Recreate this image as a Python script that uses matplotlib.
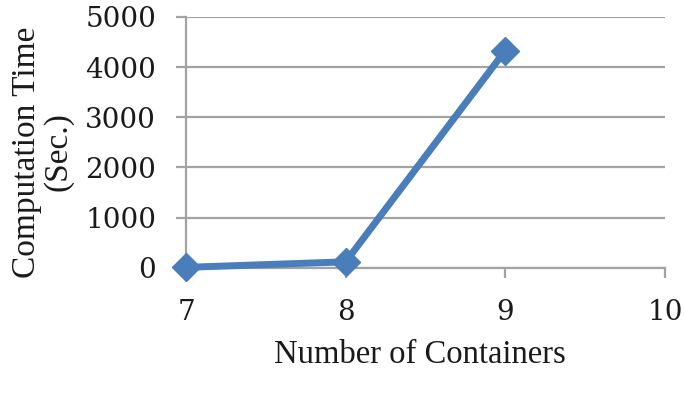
import matplotlib
matplotlib.use("Agg")
import matplotlib.pyplot as plt

# data
containers = [7, 8, 9]
comp_time = [10, 120, 4330]
x_ticks = [7, 8, 9, 10]
y_ticks = [0, 1000, 2000, 3000, 4000, 5000]

plt.rcParams['font.family'] = ['Liberation Serif', 'DejaVu Serif']

fig = plt.figure(figsize=(6.84, 4.04), dpi=100)
ax = fig.add_axes([0.272, 0.337, 0.700, 0.621])

grid_col = '#a3a3a3'
for y in y_ticks:
    ax.axhline(y, color=grid_col, lw=1.6, zorder=1)

ax.plot(containers, comp_time, color='#4a7ebb', lw=5, marker='D',
        markersize=14.5, solid_capstyle='butt', zorder=3, clip_on=False)

ax.set_xlim(7, 10)
ax.set_ylim(0, 5000)
ax.set_xticks(x_ticks)
ax.set_yticks(y_ticks)

for s in ['top', 'right']:
    ax.spines[s].set_visible(False)
for s in ['left', 'bottom']:
    ax.spines[s].set_color(grid_col)
    ax.spines[s].set_linewidth(1.6)

ax.tick_params(axis='both', colors=grid_col, labelcolor='#1a1a1a',
               length=7.5, width=1.6)
ax.tick_params(axis='y', pad=14)
ax.tick_params(axis='x', pad=15)
for lab in ax.get_xticklabels() + ax.get_yticklabels():
    lab.set_family('DejaVu Serif')
    lab.set_fontsize(20)

ax.set_xlabel('Number of Containers', fontsize=23.5, color='#1a1a1a',
              va='center')
ax.xaxis.set_label_coords(0.489, -0.345)
ax.set_ylabel('Computation Time\n(Sec.)', fontsize=24, color='#1a1a1a',
              linespacing=1.05, va='center')
ax.yaxis.set_label_coords(-0.3, 0.462)

fig.savefig('out.png', dpi=100)
